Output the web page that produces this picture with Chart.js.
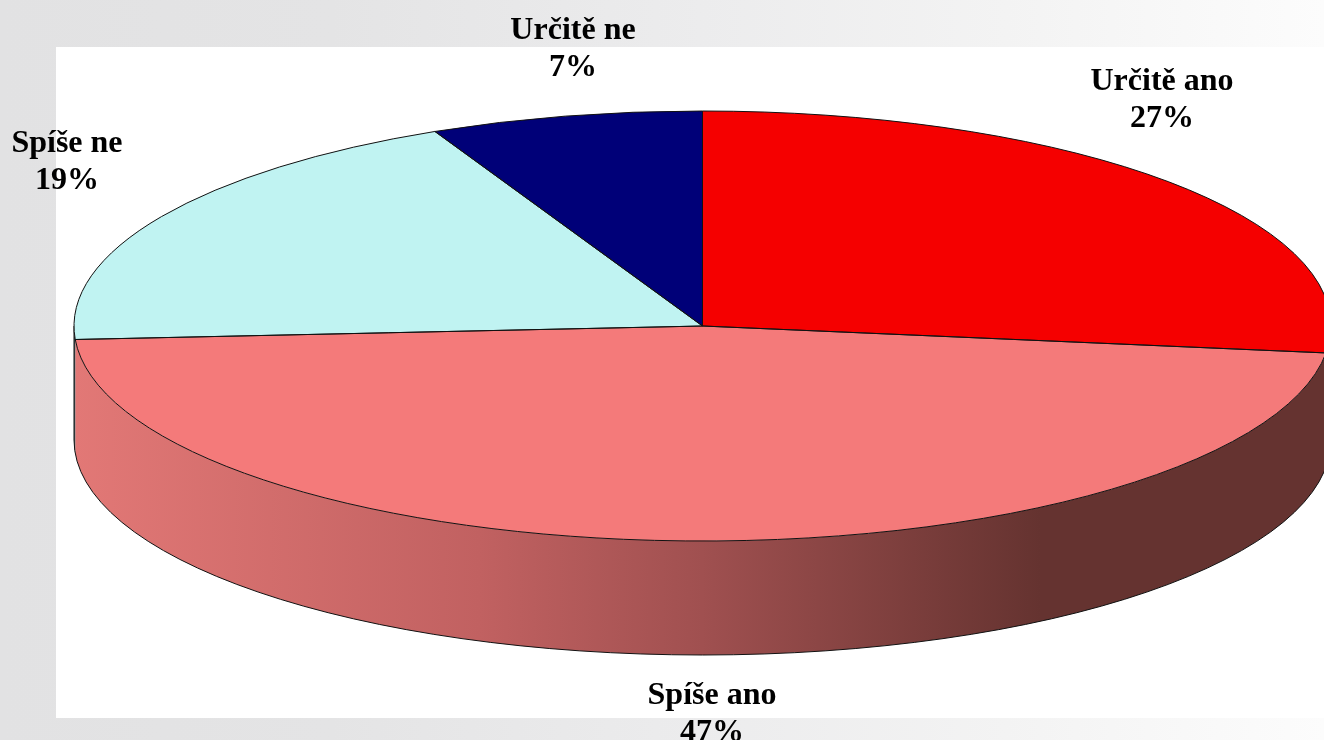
<!DOCTYPE html>
<html>
<head>
<meta charset="utf-8">
<title>Pie</title>
<script src="https://cdn.jsdelivr.net/npm/chart.js@4"></script>
<style>
  html, body { margin: 0; padding: 0; background: #fff; overflow: hidden; }
  canvas { display: block; }
</style>
</head>
<body>
<canvas id="myChart" width="1324" height="740"></canvas>
<script>
// data
const categories = ['Určitě ano', 'Spíše ano', 'Spíše ne', 'Určitě ne'];
const shares = [27, 47, 19, 7];
const sliceColors = ['#f50000', '#f47a7a', '#c0f3f2', '#000078'];

// label placement, centre x and first baseline y, same order as categories
const labelSpots = [[1162, 90], [712, 704], [67, 152], [573, 39]];

// how the flat pie is laid over as a tilted disc
const centerX = 702.5;
const centerY = 326;
const radiusX = 628.5;
const radiusY = 215;
const depth = 114;

function sideFill(ctx, index) {
    if (index === 2) return '#43595c';
    if (index !== 1) return '#7a0000';
    const grad = ctx.createLinearGradient(74, 0, 1040, 0);
    grad.addColorStop(0, '#e27876');
    grad.addColorStop(0.42, '#c16161');
    grad.addColorStop(0.65, '#a05050');
    grad.addColorStop(1, '#653330');
    return grad;
}

//page background and white plot panel
const backdrop = {
    id: 'backdrop',
    beforeDraw(chart) {
        const ctx = chart.ctx;
        const grad = ctx.createLinearGradient(0, 0, 1324, 0);
        grad.addColorStop(0, '#e2e2e3');
        grad.addColorStop(0.25, '#e4e4e5');
        grad.addColorStop(0.53, '#ececed');
        grad.addColorStop(0.76, '#f3f3f3');
        grad.addColorStop(1, '#fcfcfc');
        ctx.save();
        ctx.fillStyle = grad;
        ctx.fillRect(0, 0, 1324, 740);
        ctx.fillStyle = '#fff';
        ctx.fillRect(56, 47, 1268, 671);
        ctx.restore();
    }
};

//squash the pie and put the side wall under it
const tilt = {
    id: 'tilt',
    beforeDatasetsDraw(chart) {
        const ctx = chart.ctx;
        const arcs = chart.getDatasetMeta(0).data;
        ctx.save();
        arcs.forEach((arc, i) => {
            const from = Math.max(arc.startAngle, 0);
            const to = Math.min(arc.endAngle, Math.PI);
            if (to <= from) return;
            ctx.beginPath();
            ctx.ellipse(centerX, centerY, radiusX, radiusY, 0, from, to);
            ctx.ellipse(centerX, centerY + depth, radiusX, radiusY, 0, to, from, true);
            ctx.closePath();
            ctx.fillStyle = sideFill(ctx, i);
            ctx.fill();
        });
        ctx.strokeStyle = '#111';
        ctx.lineWidth = 1;
        ctx.beginPath();
        ctx.ellipse(centerX, centerY + depth, radiusX, radiusY, 0, 0, Math.PI);
        ctx.stroke();
        ctx.beginPath();
        ctx.moveTo(centerX - radiusX, centerY);
        ctx.lineTo(centerX - radiusX, centerY + depth);
        ctx.stroke();
        ctx.restore();

        const a = arcs[0];
        ctx.save();
        ctx.translate(a.x, a.y);
        ctx.scale(radiusX / a.outerRadius, radiusY / a.outerRadius);
        ctx.translate(-a.x, -a.y);
    },
    afterDatasetsDraw(chart) {
        const ctx = chart.ctx;
        ctx.restore();
        const arcs = chart.getDatasetMeta(0).data;
        ctx.save();
        ctx.strokeStyle = '#111';
        ctx.lineWidth = 1;
        arcs.forEach(arc => {
            ctx.beginPath();
            ctx.moveTo(centerX, centerY);
            ctx.ellipse(centerX, centerY, radiusX, radiusY, 0, arc.startAngle, arc.endAngle);
            ctx.closePath();
            ctx.stroke();
        });
        ctx.restore();
    }
};

//two line labels
const sliceLabels = {
    id: 'sliceLabels',
    afterDraw(chart) {
        const ctx = chart.ctx;
        ctx.save();
        ctx.font = 'bold 32px "Liberation Serif"';
        ctx.fillStyle = '#000';
        ctx.textAlign = 'center';
        categories.forEach((name, i) => {
            const [x, y] = labelSpots[i];
            ctx.fillText(name, x, y);
            ctx.fillText(shares[i] + '%', x, y + 37);
        });
        ctx.restore();
    }
};

const ctx = document.getElementById('myChart');
new Chart(ctx, {
    type: 'pie',
    data: {
        labels: categories,
        datasets: [{
            data: shares,
            backgroundColor: sliceColors,
            borderWidth: 0
        }]
    },
    options: {
        responsive: false,
        animation: false,
        layout: { padding: { left: 402.5, right: 321.5, top: 26, bottom: 114 } },
        plugins: {
            legend: { display: false },
            tooltip: { enabled: false }
        }
    },
    plugins: [backdrop, tilt, sliceLabels]
});
</script>
</body>
</html>
